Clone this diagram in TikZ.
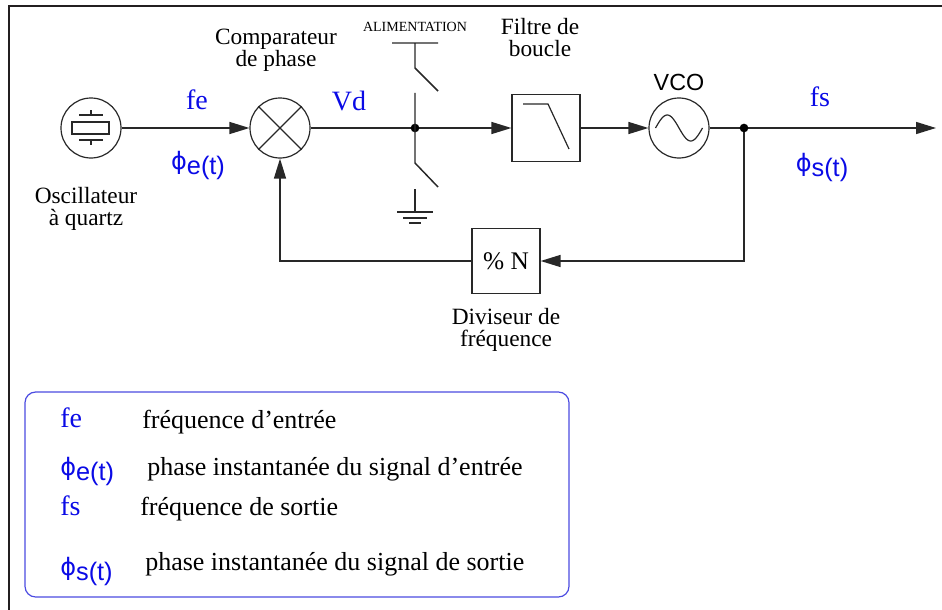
\documentclass[tikz,border=0pt]{standalone}
\usepackage{fontspec}
\setmainfont{Liberation Serif}
\setsansfont{Liberation Sans}
\newfontfamily\phifont{DejaVu Sans}
\usetikzlibrary{arrows.meta, positioning, calc}
\definecolor{LineGray}{RGB}{40,40,40}
\definecolor{LabelBlue}{RGB}{10,10,230}
\definecolor{LegendBlue}{RGB}{75,75,225}
\definecolor{FrameBlack}{RGB}{35,31,32}

\newcommand{\labelfont}{\fontsize{17.5}{16.5}\selectfont}
\newcommand{\signalfont}{\fontsize{21}{24}\selectfont}
\newcommand{\legendfont}{\fontsize{19.5}{22}\selectfont}
\newcommand{\phasesym}[1]{{\phifont\fontsize{18}{20}\selectfont ϕ}\raisebox{-4pt}{\sffamily\fontsize{19}{22}\selectfont #1(t)}}

\begin{document}
\begin{tikzpicture}[x=0.75pt,y=-0.75pt,
  wire/.style={
    draw=LineGray,
    line width=1.1pt,
  },
  flow/.style={
    wire,
    -{Triangle[length=15pt,width=9pt]},
  },
  round block/.style={
    draw=LineGray,
    line width=0.9pt,
    circle,
    minimum size=45pt,
    inner sep=0pt,
  },
  square block/.style={
    draw=LineGray,
    line width=0.9pt,
    rectangle,
    minimum width=51pt,
    minimum height=50pt,
    inner sep=0pt,
  },
  label style/.style={
    font=\labelfont,
    align=center,
    inner sep=0pt,
  },
  signal style/.style={
    font=\signalfont,
    text=LabelBlue,
    inner sep=0pt,
    anchor=base,
  },
  legend style/.style={
    font=\legendfont,
    inner sep=0pt,
    anchor=base west,
  },
  junction/.style={
    circle,
    fill=black,
    inner sep=0pt,
    minimum size=6.5pt,
  }
]
\useasboundingbox (0,0) rectangle (942,610);

% frame
\draw[FrameBlack, line width=2.2pt] (9,610) -- (9,6) -- (942,6);

% blocks of the loop
\node[round block] (osc) at (91,128) {};
\node[round block] (comp) at (280,128) {};
\node[square block] (filt) at (546,128) {};
\node[round block] (vco) at (679,128) {};
\node[square block, minimum height=49pt, font=\fontsize{19}{22}\selectfont] (div) at (506,261) {\% N};

\coordinate (split) at (415,128);
\coordinate (tap) at (744,128);
\coordinate (out) at (936,128);

% quartz
\begin{scope}[shift={(osc.center)}]
\draw[wire, line width=0.9pt] (-19,-6) rectangle (18,6);
\draw[wire, line width=0.9pt] (-12,-13) -- (12,-13) (0,-13) -- (0,-18);
\draw[wire, line width=0.9pt] (-12,12) -- (12,12) (0,12) -- (0,17);
\end{scope}

% mixer cross
\draw[wire, line width=0.9pt] (comp.45) -- (comp.225) (comp.135) -- (comp.315);

% low pass
\begin{scope}[shift={(filt.center)}]
\draw[wire, line width=0.9pt] (-23,-24) -- (2,-24) -- (23,21);
\end{scope}

% sine
\begin{scope}[shift={(vco.center)}]
\draw[wire, line width=0.9pt] plot[domain=0:360, samples=60, smooth] ({-23.5+\x/360*47},{-13*sin(\x)});
\end{scope}

% connections
\draw[flow] (osc) -- (comp);
\draw[wire] (comp) -- (split);
\draw[flow] (split) -- (filt);
\draw[flow] (filt) -- (vco);
\draw[flow] (vco) -- (out);
\draw[flow] (tap) |- (div);
\draw[flow] (div) -| (comp);
\node[junction] at (split) {};
\node[junction] at (tap) {};

% supply and ground switches
\node[font=\fontsize{10.5}{12}\selectfont, inner sep=0pt] (alim) at (415,27) {ALIMENTATION};
\draw[wire] (392,43) -- (438,43) (415,43) -- (415,68) -- (438,91);
\draw[wire] (415,93) -- (415,163) -- (438,187);
\draw[wire] (415,189) -- (415,212);
\draw[wire] (397,212) -- (433,212) (403,218) -- (427,218) (409,223) -- (421,223);

% labels
\node[label style] at (86,209) {Oscillateur\\à quartz};
\node[label style] at (276,50) {Comparateur\\de phase};
\node[label style] at (540,38) {Filtre de\\boucle};
\node[label style, font=\sffamily\labelfont] at (679,82) {VCO};
\node[label style] at (506,330) {Diviseur de\\fréquence};

\node[signal style] at (197,109) {fe};
\node[signal style] at (349,110) {Vd};
\node[signal style] at (820,107) {fs};
\node[signal style] at (198,169) {\phasesym{e}};
\node[signal style] at (822,171) {\phasesym{s}};

% legend
\draw[LegendBlue, line width=0.9pt, rounded corners=8pt] (25,392) rectangle (569,597);
\node[signal style, anchor=base west] at (60,427) {fe};
\node[legend style] at (142,428) {fréquence d’entrée};
\node[signal style, anchor=base west] at (60,475) {\phasesym{e}};
\node[legend style] at (147,475) {phase instantanée du signal d’entrée};
\node[signal style, anchor=base west] at (60,515) {fs};
\node[legend style] at (140,515) {fréquence de sortie};
\node[signal style, anchor=base west] at (60,575) {\phasesym{s}};
\node[legend style] at (145,570) {phase instantanée du signal de sortie};

\end{tikzpicture}
\end{document}
